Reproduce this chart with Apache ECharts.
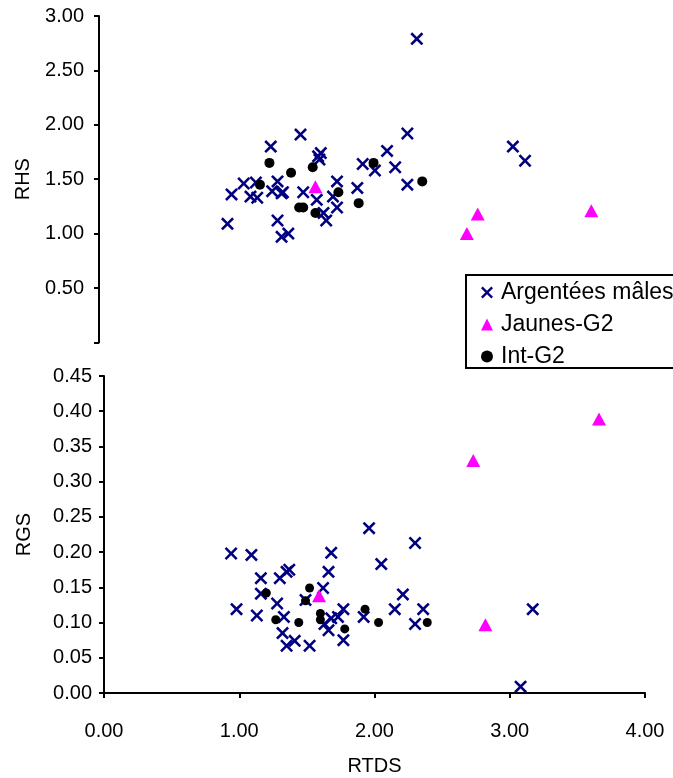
<!DOCTYPE html>
<html>
<head>
<meta charset="utf-8">
<script src="https://cdn.jsdelivr.net/npm/echarts@6/dist/echarts.min.js"></script>
<style>html,body{margin:0;padding:0;background:#fff;}#c{width:673px;height:778px;}</style>
</head>
<body>
<div id="c"></div>
<script>
// Series names
const seriesNames = ['Argentées mâles', 'Jaunes-G2', 'Int-G2'];

// Top panel (RTDS vs RHS)
const argRTDS_top = [0.95,0.98,1.07,1.12,1.16,1.17,1.27,1.28,1.32,1.32,1.35,1.36,1.35,1.40,1.49,1.51,1.61,1.62,1.64,1.63,1.66,1.68,1.76,1.73,1.76,1.91,1.95,2.04,2.13,2.35,2.28,2.19,2.28,3.06,3.15];
const argRHS      = [1.09,1.36,1.46,1.34,1.47,1.33,1.80,1.39,1.48,1.12,1.37,1.38,0.97,1.00,1.91,1.38,1.31,1.71,1.74,1.68,1.19,1.12,1.48,1.34,1.24,1.42,1.64,1.58,1.76,2.79,1.92,1.61,1.45,1.80,1.67];
const jauRTDS_top = [1.60,2.72,2.80,3.64];
const jauRHS      = [1.43,1.00,1.18,1.21];
const intRTDS_top = [1.26,1.19,1.42,1.58,1.48,1.51,1.60,1.77,1.92,2.03,2.39];
const intRHS      = [1.65,1.45,1.56,1.61,1.24,1.24,1.19,1.38,1.28,1.65,1.48];

// Bottom panel (RTDS vs RGS)
const argRTDS_bot = [0.94,0.98,1.09,1.13,1.16,1.16,1.28,1.30,1.35,1.37,1.33,1.32,1.35,1.41,1.52,1.49,1.62,1.66,1.68,1.63,1.66,1.68,1.73,1.77,1.77,1.92,1.96,2.05,2.30,2.21,2.15,2.36,2.30,3.17,3.08];
const argRGS      = [0.198,0.119,0.196,0.110,0.163,0.141,0.127,0.163,0.172,0.175,0.108,0.085,0.067,0.074,0.067,0.132,0.149,0.172,0.199,0.098,0.089,0.106,0.108,0.119,0.075,0.108,0.234,0.183,0.213,0.140,0.119,0.119,0.098,0.119,0.009];
const jauRTDS_bot = [1.59,2.73,3.66,2.82];
const jauRGS      = [0.138,0.330,0.389,0.097];
const intRTDS_bot = [1.20,1.27,1.44,1.52,1.49,1.60,1.60,1.78,1.93,2.03,2.39];
const intRGS      = [0.142,0.104,0.100,0.149,0.131,0.113,0.104,0.091,0.119,0.100,0.100];

// Axis tick settings
const xTicks = [0, 4, 1];      // min, max, interval
const rhsTicks = [0, 3, 0.5];
const rgsTicks = [0, 0.45, 0.05];

function zip(xs, ys) { return xs.map((x, i) => [x, ys[i]]); }

const crossPath = 'path://M0,1.4L1.4,0L5,3.6L8.6,0L10,1.4L6.4,5L10,8.6L8.6,10L5,6.4L1.4,10L0,8.6L3.6,5Z';
const NAVY = '#000080', MAG = '#FF00FF', BLK = '#000000';
const FONT = 'Liberation Sans';
const FS = 20;

const axisLine = { show: true, lineStyle: { color: '#000', width: 2 } };
const axisTick = { show: true, inside: false, length: 5, lineStyle: { color: '#000', width: 2 } };

const chart = echarts.init(document.getElementById('c'), null, { renderer: 'canvas' });

function mk(name, data, xi, sym, size, color) {
  return {
    name: name, type: 'scatter', xAxisIndex: xi, yAxisIndex: xi,
    data: data, symbol: sym, symbolSize: size,
    itemStyle: { color: color, opacity: 1 },
    emphasis: { disabled: true }, animation: false
  };
}

chart.setOption({
  animation: false,
  backgroundColor: '#fff',
  grid: [
    { left: 99, width: 541, top: 16, height: 326.4 },
    { left: 104, width: 541, top: 376, height: 317 }
  ],
  xAxis: [
    { gridIndex: 0, type: 'value', min: xTicks[0], max: xTicks[1], interval: xTicks[2], show: false },
    { gridIndex: 1, type: 'value', min: xTicks[0], max: xTicks[1], interval: xTicks[2],
      axisLine: axisLine, axisTick: axisTick, splitLine: { show: false },
      axisLabel: { color: '#000', fontFamily: FONT, fontSize: FS, margin: 28, formatter: v => v.toFixed(2) },
      name: 'RTDS', nameLocation: 'middle', nameGap: 63,
      nameTextStyle: { color: '#000', fontFamily: FONT, fontSize: FS } }
  ],
  yAxis: [
    { gridIndex: 0, type: 'value', min: rhsTicks[0], max: rhsTicks[1], interval: rhsTicks[2],
      axisLine: axisLine, axisTick: axisTick, splitLine: { show: false },
      axisLabel: { color: '#000', fontFamily: FONT, fontSize: FS, margin: 15,
        formatter: v => v === 0 ? '' : v.toFixed(2) },
      name: 'RHS', nameLocation: 'middle', nameGap: 66, nameRotate: 90,
      nameTextStyle: { color: '#000', fontFamily: FONT, fontSize: FS } },
    { gridIndex: 1, type: 'value', min: rgsTicks[0], max: rgsTicks[1], interval: rgsTicks[2],
      axisLine: axisLine, axisTick: axisTick, splitLine: { show: false },
      axisLabel: { color: '#000', fontFamily: FONT, fontSize: FS, margin: 12, formatter: v => v.toFixed(2) },
      name: 'RGS', nameLocation: 'middle', nameGap: 70, nameRotate: 90,
      nameTextStyle: { color: '#000', fontFamily: FONT, fontSize: FS } }
  ],
  legend: {
    orient: 'vertical', left: 466, top: 275,
    backgroundColor: '#fff', borderColor: '#000', borderWidth: 2,
    padding: [6, 30, 0, 15], itemGap: 9, itemWidth: 12, itemHeight: 12,
    textStyle: { color: '#000', fontFamily: FONT, fontSize: 23, padding: [0, 0, 0, 3] },
    selectedMode: false,
    data: [
      { name: seriesNames[0], icon: crossPath },
      { name: seriesNames[1], icon: 'triangle' },
      { name: seriesNames[2], icon: 'circle' }
    ]
  },
  series: [
    mk(seriesNames[0], zip(argRTDS_top, argRHS), 0, crossPath, 13, NAVY),
    mk(seriesNames[1], zip(jauRTDS_top, jauRHS), 0, 'triangle', [14, 13], MAG),
    mk(seriesNames[2], zip(intRTDS_top, intRHS), 0, 'circle', 10, BLK),
    mk(seriesNames[0], zip(argRTDS_bot, argRGS), 1, crossPath, 13, NAVY),
    mk(seriesNames[1], zip(jauRTDS_bot, jauRGS), 1, 'triangle', [14, 13], MAG),
    mk(seriesNames[2], zip(intRTDS_bot, intRGS), 1, 'circle', 9, BLK)
  ]
});
</script>
</body>
</html>
